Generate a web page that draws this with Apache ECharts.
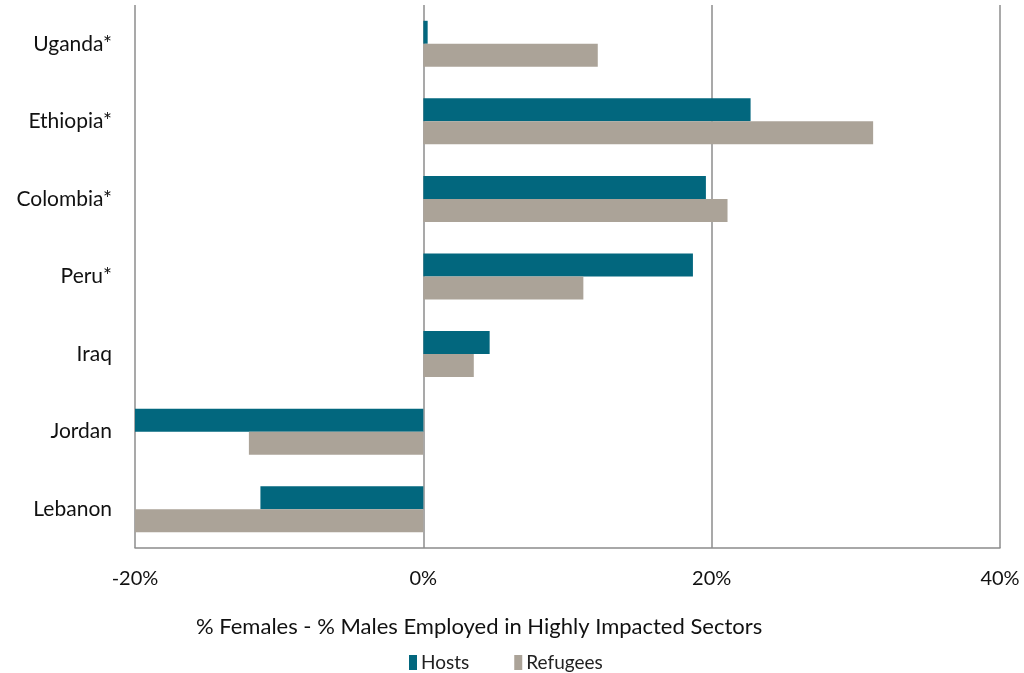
<!DOCTYPE html>
<html><head><meta charset="utf-8">
<script src="https://cdn.jsdelivr.net/npm/echarts@6/dist/echarts.min.js"></script>
<style>html,body{margin:0;padding:0;background:#fff}#c{width:1024px;height:673px}</style>
</head><body><div id="c"></div>
<script>
const categories = ["Uganda*", "Ethiopia*", "Colombia*", "Peru*", "Iraq", "Jordan", "Lebanon"];
const hosts = [0.3, 22.7, 19.6, 18.7, 4.6, -20, -11.3];
const refugees = [12.1, 31.2, 21.1, 11.1, 3.5, -12.1, -20];
const xTicks = [-20, 0, 20, 40];
const axisTitle = "% Females - % Males Employed in Highly Impacted Sectors";
const font = "Lato";
const chart = echarts.init(document.getElementById('c'));
chart.setOption({
  animation: false,
  textStyle: {fontFamily: font},
  title: {text: axisTitle, left: 191, top: 611, textStyle: {fontFamily: font, fontSize: 22, fontWeight: 'normal', color: '#111'}},
  legend: {left: 404, top: 648, itemWidth: 8, itemHeight: 15, itemGap: 45, icon: 'rect',
    textStyle: {fontFamily: font, fontSize: 19, color: '#222', padding: [0, 0, 0, -1]},
    data: ["Hosts", "Refugees"]},
  grid: {left: 135, right: 24, top: 5, bottom: 125, containLabel: false},
  xAxis: {type: 'value', min: xTicks[0], max: xTicks[xTicks.length - 1], interval: 20,
    axisLine: {show: true, lineStyle: {color: '#8c8c8c', width: 1.5}},
    axisTick: {show: false},
    axisLabel: {formatter: v => v + '%', fontSize: 20, color: '#111', margin: 21, fontFamily: font},
    splitLine: {show: true, lineStyle: {color: '#8c8c8c', width: 1.5}}},
  yAxis: {type: 'category', data: categories, inverse: true,
    axisLine: {show: false}, axisTick: {show: false},
    axisLabel: {fontSize: 21, color: '#111', margin: 23, fontFamily: font}},
  series: [
    {name: "Hosts", type: 'bar', data: hosts, barWidth: 23, barGap: '0%', itemStyle: {color: '#02677E'}},
    {name: "Refugees", type: 'bar', data: refugees, barWidth: 23, barGap: '0%', itemStyle: {color: '#ABA398'}}
  ]
});
</script></body></html>
